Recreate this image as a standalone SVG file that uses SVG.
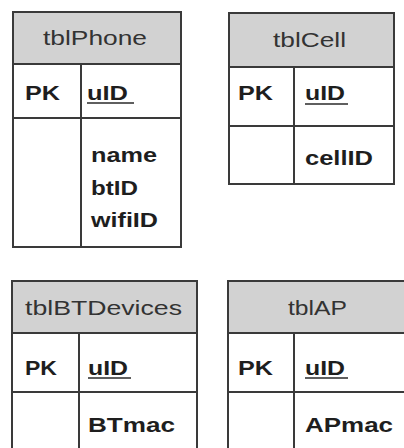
<svg xmlns="http://www.w3.org/2000/svg" width="404" height="448" viewBox="0 0 404 448">
<style>
.bg{fill:#ffffff}
.box{fill:#ffffff;stroke:#3a3a3a;stroke-width:2}
.hd{fill:#d2d2d2;stroke:#3a3a3a;stroke-width:2}
.ln{stroke:#3a3a3a;stroke-width:2;fill:none}
.ul{stroke:#2a2a2a;stroke-width:1.6}
.h{font-family:"Liberation Sans",Arial,sans-serif;font-size:21px;fill:#333333}
.b{font-family:"Liberation Sans",Arial,sans-serif;font-size:21px;font-weight:bold;fill:#1e1e1e}
</style>
<rect class="bg" x="0" y="0" width="404" height="448"/>
<g id="tblPhone">
<rect class="box" x="13" y="12" width="168" height="235"/>
<rect class="hd" x="13" y="12" width="168" height="52"/>
<line class="ln" x1="13" y1="118" x2="181" y2="118"/>
<line class="ln" x1="81" y1="64" x2="81" y2="247"/>
<text class="h" x="43" y="45" textLength="104" lengthAdjust="spacingAndGlyphs">tblPhone</text>
<text class="b" x="25" y="100" textLength="35" lengthAdjust="spacingAndGlyphs">PK</text>
<text class="b" x="87" y="100" textLength="41" lengthAdjust="spacingAndGlyphs">uID</text>
<line class="ul" x1="87" y1="103" x2="134" y2="103"/>
<text class="b" x="91" y="162" textLength="66" lengthAdjust="spacingAndGlyphs">name</text>
<text class="b" x="91" y="195" textLength="47" lengthAdjust="spacingAndGlyphs">btID</text>
<text class="b" x="91" y="227" textLength="67" lengthAdjust="spacingAndGlyphs">wifiID</text>
</g>
<g id="tblCell">
<rect class="box" x="229" y="13" width="165" height="171"/>
<rect class="hd" x="229" y="13" width="165" height="54"/>
<line class="ln" x1="229" y1="126" x2="394" y2="126"/>
<line class="ln" x1="294" y1="67" x2="294" y2="184"/>
<text class="h" x="273" y="47" textLength="73" lengthAdjust="spacingAndGlyphs">tblCell</text>
<text class="b" x="238" y="100" textLength="35" lengthAdjust="spacingAndGlyphs">PK</text>
<text class="b" x="305" y="100" textLength="40" lengthAdjust="spacingAndGlyphs">uID</text>
<line class="ul" x1="305" y1="104" x2="348" y2="104"/>
<text class="b" x="305" y="165" textLength="68" lengthAdjust="spacingAndGlyphs">cellID</text>
</g>
<g id="tblBTDevices">
<rect class="box" x="12" y="281" width="185" height="172"/>
<rect class="hd" x="12" y="281" width="185" height="52"/>
<line class="ln" x1="12" y1="392" x2="197" y2="392"/>
<line class="ln" x1="79" y1="333" x2="79" y2="453"/>
<text class="h" x="25" y="315" textLength="157" lengthAdjust="spacingAndGlyphs">tblBTDevices</text>
<text class="b" x="25" y="375" textLength="32" lengthAdjust="spacingAndGlyphs">PK</text>
<text class="b" x="88" y="375" textLength="40" lengthAdjust="spacingAndGlyphs">uID</text>
<line class="ul" x1="88" y1="378" x2="131" y2="378"/>
<text class="b" x="88" y="432" textLength="87" lengthAdjust="spacingAndGlyphs">BTmac</text>
</g>
<g id="tblAP">
<rect class="box" x="228" y="281" width="180" height="172"/>
<rect class="hd" x="228" y="281" width="180" height="52"/>
<line class="ln" x1="228" y1="392" x2="408" y2="392"/>
<line class="ln" x1="294" y1="333" x2="294" y2="453"/>
<text class="h" x="288" y="315" textLength="59" lengthAdjust="spacingAndGlyphs">tblAP</text>
<text class="b" x="238" y="375" textLength="35" lengthAdjust="spacingAndGlyphs">PK</text>
<text class="b" x="305" y="375" textLength="40" lengthAdjust="spacingAndGlyphs">uID</text>
<line class="ul" x1="305" y1="378" x2="348" y2="378"/>
<text class="b" x="305" y="432" textLength="88" lengthAdjust="spacingAndGlyphs">APmac</text>
</g>
<g id="connectors"/>
</svg>
